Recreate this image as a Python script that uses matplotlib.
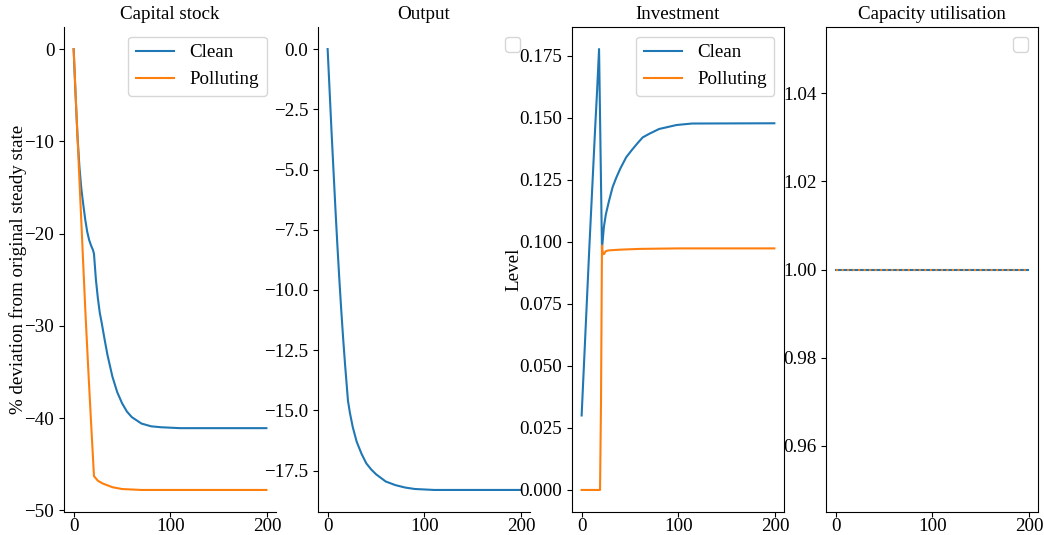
import matplotlib
matplotlib.use("Agg")
import matplotlib.pyplot as plt

plt.rcParams['font.family'] = ['Liberation Serif', 'DejaVu Serif']
plt.rcParams['font.size'] = 13.7
plt.rcParams['axes.titlesize'] = 13.7
plt.rcParams['xtick.major.pad'] = 0.5

# capital stock, % deviation from original steady state
t_k_clean = [0, 2, 4, 6, 8, 10, 12, 14, 16, 18, 20, 21, 23, 25, 27, 29, 32, 35, 40, 45, 50, 55, 60, 70, 80, 90, 110, 199]
k_clean = [0, -5, -9.5, -12.8, -15.2, -16.9, -18.5, -19.8, -20.7, -21.3, -21.8, -22.2, -25, -27, -28.6, -29.7,
           -31.5, -33.2, -35.5, -37.2, -38.4, -39.3, -39.9, -40.6, -40.9, -41.0, -41.1, -41.1]
t_k_poll = [0, 3, 6, 9, 12, 15, 18, 21, 25, 30, 40, 50, 70, 199]
k_poll = [0, -7.2, -14.2, -21.2, -28.2, -34.5, -40.5, -46.3, -46.8, -47.1, -47.5, -47.7, -47.8, -47.8]

# output, % deviation
t_y = [0, 2, 4, 6, 8, 10, 12, 14, 16, 18, 20, 21, 23, 26, 30, 35, 40, 45, 50, 60, 70, 80, 90, 110, 199]
y_out = [0, -1.7, -3.4, -5, -6.6, -8.1, -9.5, -10.8, -12.0, -13.1, -14.1, -14.6, -15.1, -15.7, -16.3, -16.8,
         -17.2, -17.45, -17.65, -17.95, -18.1, -18.2, -18.26, -18.3, -18.3]

# investment, level
t_i_clean = [0, 2, 4, 6, 8, 10, 12, 14, 16, 18, 21, 23, 25, 28, 32, 36, 40, 46, 52, 58, 63, 70, 80, 98, 114, 199]
i_clean = [0.030, 0.047, 0.064, 0.081, 0.098, 0.114, 0.130, 0.146, 0.161, 0.1776, 0.097, 0.106, 0.111, 0.116,
           0.122, 0.126, 0.1295, 0.134, 0.137, 0.1398, 0.142, 0.1435, 0.1454, 0.147, 0.1476, 0.1477]
t_i_poll = [0, 19, 20, 21, 22, 23, 25, 28, 40, 60, 100, 199]
i_poll = [0, 0, 0.035, 0.0985, 0.095, 0.095, 0.0962, 0.0965, 0.0968, 0.0971, 0.0973, 0.0973]

# capacity utilisation
t_u = [0, 199]
u_clean = [1.0, 1.0]
u_poll = [1.0, 1.0]

fig, axes = plt.subplots(1, 4, figsize=(10.44, 5.35), dpi=100)
fig.subplots_adjust(left=64/1044, right=1038/1044, top=1-27/535, bottom=1-512/535, wspace=0.198)

ax = axes[0]
ax.plot(t_k_clean, k_clean, label="Clean")
ax.plot(t_k_poll, k_poll, label="Polluting")
ax.set_title("Capital stock")
ax.set_ylabel("% deviation from original steady state", labelpad=-2)
ax.legend(loc="upper right")

ax = axes[1]
ax.plot(t_y, y_out)
ax.set_title("Output")
ax.legend(loc="upper right")

ax = axes[2]
ax.plot(t_i_clean, i_clean, label="Clean")
ax.plot(t_i_poll, i_poll, label="Polluting")
ax.set_title("Investment")
ax.set_ylabel("Level", labelpad=-2)
ax.legend(loc="upper right")

ax = axes[3]
ax.plot(t_u, u_clean)
ax.plot(t_u, u_poll, ls=":")
ax.set_title("Capacity utilisation")
ax.legend(loc="upper right")

# only the first two panels are despined
for ax in axes[:2]:
    ax.spines["top"].set_visible(False)
    ax.spines["right"].set_visible(False)

fig.savefig("out.png", dpi=100)
